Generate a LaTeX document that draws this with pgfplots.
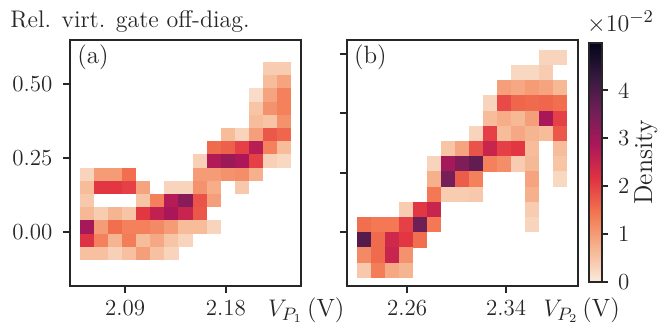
\documentclass[border=0pt]{standalone}
\usepackage{pgfplots}
\usepackage{pgfplotstable}
\pgfplotsset{compat=1.18}
\definecolor{axc}{HTML}{262626}
\newcommand\ftick{\fontsize{11.5}{13}\selectfont}
\newcommand\flab{\fontsize{12.5}{14}\selectfont}
\pgfdeclareplotmark{cellA}{\pgfpathrectangle{\pgfpoint{-3.55pt}{-3.34pt}}{\pgfpoint{7.1pt}{6.68pt}}\pgfusepathqfill}
\pgfdeclareplotmark{cellB}{\pgfpathrectangle{\pgfpoint{-3.56pt}{-3.83pt}}{\pgfpoint{7.12pt}{7.66pt}}\pgfusepathqfill}
\pgfplotsset{
  colormap={rocketr}{rgb255=(250,235,221) rgb255=(246,180,143) rgb255=(243,118,81) rgb255=(225,51,66) rgb255=(173,23,89) rgb255=(112,31,87) rgb255=(53,25,62) rgb255=(3,5,26)},
  panel/.style={
    scale only axis, width=115.5pt, height=123pt,
    axis line style={axc, line width=1pt},
    every tick/.style={axc, line width=1pt},
    tick align=outside, major tick length=3.5pt,
    xtick pos=bottom, ytick pos=left,
    ymin=-0.18, ymax=0.647,
    colormap name=rocketr, point meta min=0, point meta max=5.0,
    tick label style={font=\ftick, text=axc},
    yticklabel style={xshift=-1.8pt},
    clip=false,
  },
  cells/.style={scatter, only marks, mark=#1, point meta=explicit,
    scatter/use mapped color={fill=mapped color, draw=none}},
}
\pgfplotstableread{
x y v
2.2194 0.5502 0.4
2.2319 0.5502 0.4
2.2194 0.5059 0.6
2.2319 0.5059 0.9
2.2068 0.4615 0.2
2.2194 0.4615 0.9
2.2319 0.4615 1.3
2.2068 0.4172 0.5
2.2194 0.4172 1.1
2.2319 0.4172 1.3
2.2068 0.3728 0.6
2.2194 0.3728 0.5
2.2319 0.3728 1.1
2.1817 0.3284 0.6
2.1943 0.3284 0.3
2.2068 0.3284 0.95
2.2194 0.3284 1.75
2.2319 0.3284 1.6
2.1691 0.2841 1.55
2.1817 0.2841 1.65
2.1943 0.2841 2.0
2.2068 0.2841 2.7
2.2194 0.2841 1.3
2.2319 0.2841 0.6
2.1566 0.2397 0.35
2.1691 0.2397 2.8
2.1817 0.2397 3.05
2.1943 0.2397 2.85
2.2068 0.2397 2.0
2.2194 0.2397 0.35
2.2319 0.2397 0.25
2.0561 0.1954 0.3
2.0687 0.1954 1.0
2.0812 0.1954 1.0
2.0938 0.1954 1.5
2.1566 0.1954 1.0
2.1691 0.1954 1.0
2.1817 0.1954 1.1
2.1943 0.1954 1.15
2.2068 0.1954 0.75
2.0561 0.1510 0.6
2.0687 0.1510 2.1
2.0812 0.1510 2.1
2.0938 0.1510 2.0
2.1063 0.1510 0.9
2.1315 0.1510 0.3
2.1440 0.1510 0.3
2.1566 0.1510 1.1
2.1691 0.1510 0.8
2.1943 0.1510 0.45
2.0561 0.1067 0.45
2.1063 0.1067 0.5
2.1189 0.1067 1.3
2.1315 0.1067 2.75
2.1440 0.1067 3.3
2.1566 0.1067 1.8
2.1691 0.1067 0.95
2.0561 0.0623 0.65
2.0687 0.0623 0.4
2.0812 0.0623 0.7
2.0938 0.0623 0.5
2.1063 0.0623 2.1
2.1189 0.0623 2.6
2.1315 0.0623 2.9
2.1440 0.0623 2.5
2.1566 0.0623 1.75
2.0561 0.0179 2.95
2.0687 0.0179 1.0
2.0812 0.0179 1.5
2.0938 0.0179 1.3
2.1063 0.0179 1.3
2.1189 0.0179 1.2
2.1315 0.0179 1.0
2.1440 0.0179 0.6
2.1566 0.0179 0.6
2.1691 0.0179 0.3
2.0561 -0.0264 2.2
2.0687 -0.0264 1.3
2.0812 -0.0264 0.7
2.0938 -0.0264 1.35
2.1063 -0.0264 0.6
2.1189 -0.0264 0.85
2.1315 -0.0264 0.5
2.1440 -0.0264 0.3
2.0561 -0.0708 0.55
2.0687 -0.0708 0.55
2.0812 -0.0708 0.35
2.0938 -0.0708 0.55
2.1063 -0.0708 0.95
2.1189 -0.0708 0.55
2.1315 -0.0708 0.3
}\dataA
\pgfplotstableread{
x y v
2.3723 0.5882 0.3
2.3836 0.5882 0.3
2.3496 0.5371 0.25
2.3610 0.5371 0.25
2.3723 0.5371 0.4
2.3383 0.4860 0.95
2.3496 0.4860 0.85
2.3610 0.4860 1.0
2.3723 0.4860 0.9
2.3836 0.4860 0.65
2.3270 0.4349 0.3
2.3383 0.4349 1.9
2.3496 0.4349 1.6
2.3610 0.4349 1.55
2.3723 0.4349 1.6
2.3836 0.4349 1.5
2.3270 0.3838 0.6
2.3383 0.3838 0.8
2.3496 0.3838 0.65
2.3610 0.3838 0.95
2.3723 0.3838 2.9
2.3836 0.3838 2.0
2.3156 0.3327 0.3
2.3270 0.3327 2.0
2.3383 0.3327 0.6
2.3496 0.3327 0.85
2.3610 0.3327 0.7
2.3723 0.3327 0.6
2.3836 0.3327 1.75
2.2930 0.2816 0.5
2.3043 0.2816 0.9
2.3156 0.2816 1.8
2.3270 0.2816 2.5
2.3383 0.2816 2.0
2.3496 0.2816 2.1
2.3610 0.2816 0.6
2.3836 0.2816 0.6
2.2816 0.2305 0.3
2.2930 0.2305 2.95
2.3043 0.2305 3.4
2.3156 0.2305 3.75
2.3270 0.2305 1.3
2.3383 0.2305 1.15
2.3496 0.2305 0.4
2.3610 0.2305 0.65
2.3836 0.2305 0.5
2.2816 0.1794 0.75
2.2930 0.1794 3.5
2.3043 0.1794 1.7
2.3156 0.1794 1.3
2.3610 0.1794 0.9
2.3836 0.1794 0.25
2.2816 0.1283 1.4
2.2930 0.1283 0.4
2.3043 0.1283 0.4
2.3156 0.1283 0.45
2.3610 0.1283 0.75
2.2590 0.0771 0.4
2.2703 0.0771 2.1
2.2816 0.0771 2.5
2.3610 0.0771 0.4
2.2250 0.0260 1.5
2.2363 0.0260 1.4
2.2476 0.0260 1.4
2.2590 0.0260 2.0
2.2703 0.0260 3.6
2.2816 0.0260 1.4
2.3610 0.0260 0.3
2.2250 -0.0251 3.9
2.2363 -0.0251 1.55
2.2476 -0.0251 2.4
2.2590 -0.0251 2.1
2.2703 -0.0251 1.5
2.2250 -0.0762 1.2
2.2363 -0.0762 1.55
2.2476 -0.0762 2.5
2.2590 -0.0762 1.1
2.2250 -0.1273 0.45
2.2363 -0.1273 1.35
2.2476 -0.1273 0.85
2.2590 -0.1273 0.7
}\dataB
\begin{document}
\begin{tikzpicture}
\begin{axis}[panel, name=A, at={(0,0)}, anchor=south west, xmin=2.0408, xmax=2.2471,
  xtick={2.09,2.18}, xticklabels={2.09,2.18},
  ytick={0,0.25,0.5}, yticklabels={0.00,0.25,0.50}]
\addplot[cells=cellA] table[x=x, y=y, meta=v] {\dataA};
\node[anchor=base west, font=\flab, text=axc, inner sep=0pt, xshift=3.5pt, yshift=-11.9pt] at (rel axis cs:0,1) {(a)};
\node[anchor=base west, font=\fontsize{12}{14}\selectfont, text=axc, inner sep=0pt, xshift=-30pt, yshift=6.15pt] at (rel axis cs:0,1) {Rel. virt. gate off-diag.};
\node[anchor=base, font=\flab, text=axc, inner sep=0pt, xshift=2.65pt, yshift=-15.2pt] at (rel axis cs:1,0) {$V_{P_1}\,$(V)};
\end{axis}
\begin{axis}[panel, at={(138.35pt,0)}, anchor=south west, xmin=2.2112, xmax=2.3977,
  xtick={2.26,2.34}, xticklabels={2.26,2.34},
  ytick={0,0.2,0.4,0.6}, yticklabels={}]
\addplot[cells=cellB] table[x=x, y=y, meta=v] {\dataB};
\node[anchor=base west, font=\flab, text=axc, inner sep=0pt, xshift=3.5pt, yshift=-11.9pt] at (rel axis cs:0,1) {(b)};
\node[anchor=base, font=\flab, text=axc, inner sep=0pt, xshift=2pt, yshift=-15.2pt] at (rel axis cs:1,0) {$V_{P_2}\,$(V)};
\end{axis}
\begin{axis}[at={(259.65pt,2.15pt)}, anchor=south west, scale only axis, width=6.35pt, height=119.5pt,
  xmin=0, xmax=1, ymin=0, ymax=5.0, axis on top, clip=false,
  colormap name=rocketr, point meta min=0, point meta max=5.0,
  xtick=\empty, ytick={0,1,2,3,4}, yticklabels={0,1,2,3,4},
  tick align=outside, major tick length=3pt, ytick pos=right, yticklabel pos=right,
  axis line style={axc, line width=1pt},
  every tick/.style={axc, line width=1pt},
  tick label style={font=\ftick, text=axc},
  yticklabel style={xshift=1.5pt}]
\addplot[surf, shader=interp, point meta=y, mesh/cols=2, mesh/rows=8] coordinates {
(0,0) (1,0)
(0,0.7143) (1,0.7143)
(0,1.4286) (1,1.4286)
(0,2.1429) (1,2.1429)
(0,2.8571) (1,2.8571)
(0,3.5714) (1,3.5714)
(0,4.2857) (1,4.2857)
(0,5.0) (1,5.0)
};
\node[xshift=22pt, rotate=90, anchor=center, font=\fontsize{13}{15}\selectfont, text=axc, inner sep=0pt] at (rel axis cs:1,0.5) {Density};
\node[anchor=base west, font=\flab, text=axc, inner sep=0pt, xshift=-1.3pt, yshift=5.5pt] at (rel axis cs:0,1) {$\times10^{-2}$};
\end{axis}
\pgfresetboundingbox
\path (-35pt,-19pt) rectangle (294pt,143pt);
\end{tikzpicture}
\end{document}
